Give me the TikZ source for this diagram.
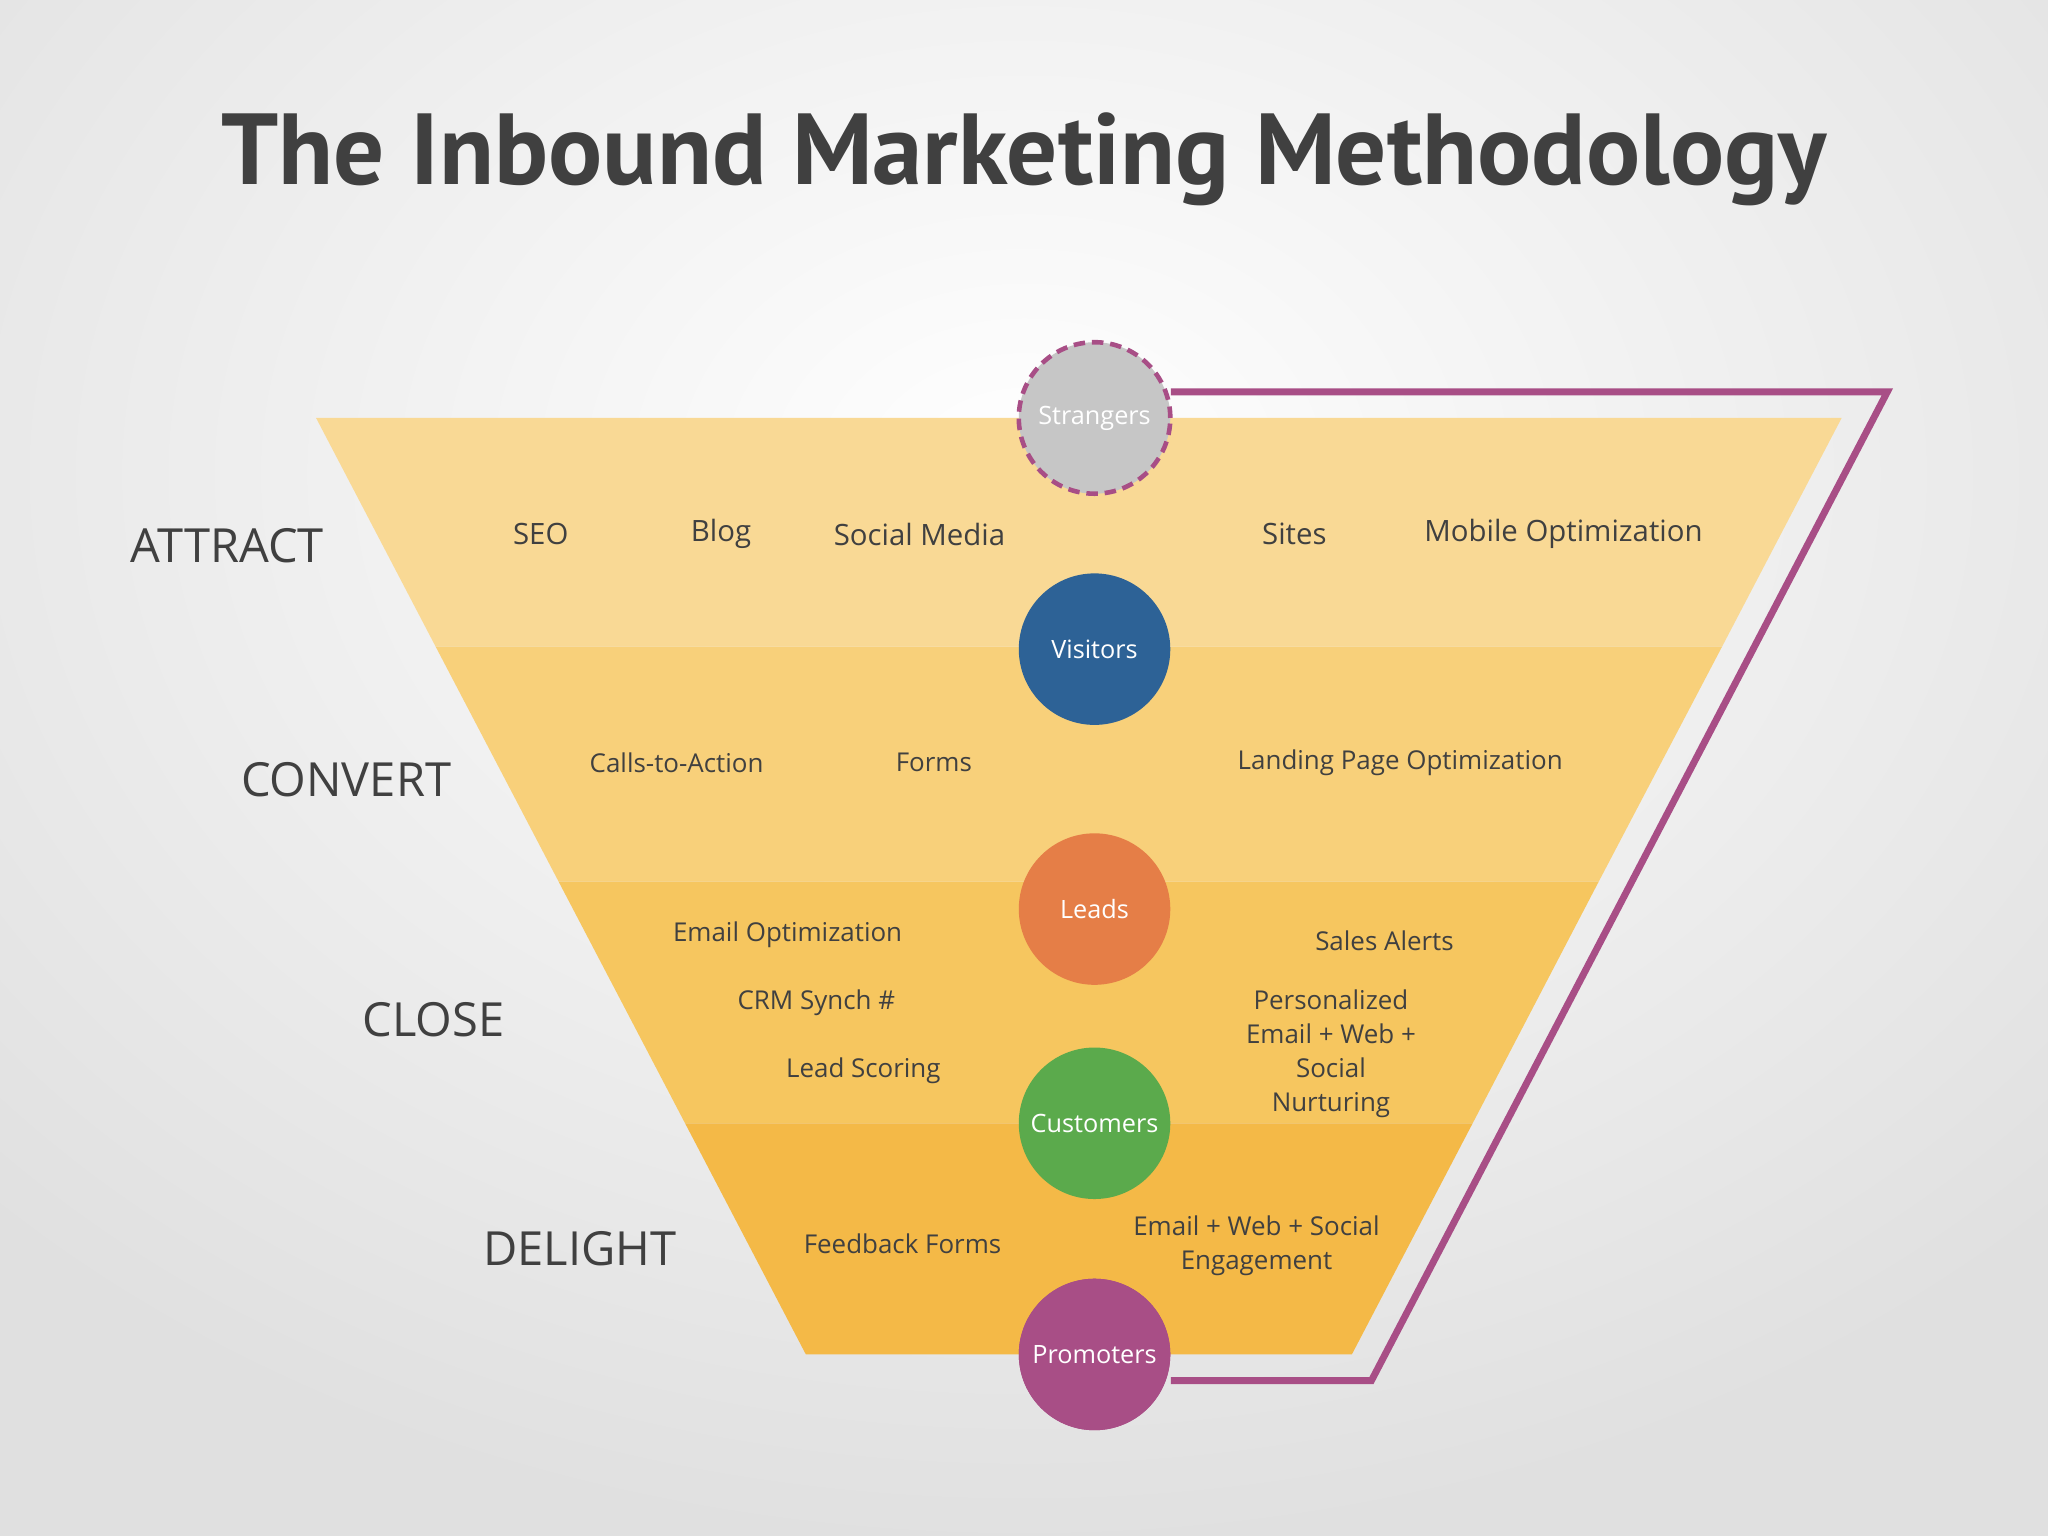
\documentclass[tikz,border=0pt]{standalone}
\usepackage{fontspec}
\setmainfont{Open Sans}
\newfontfamily\titlefont{PT Sans}
\definecolor{txt}{HTML}{404040}
\definecolor{bA}{HTML}{F9D995}
\definecolor{bB}{HTML}{F8D07A}
\definecolor{bC}{HTML}{F6C65F}
\definecolor{bD}{HTML}{F4B947}
\definecolor{mag}{HTML}{A84E86}
\definecolor{cV}{HTML}{2D6296}
\definecolor{cL}{HTML}{E57E47}
\definecolor{cC}{HTML}{5BAA4C}
\begin{document}
\begin{tikzpicture}[x=0.02cm,y=-0.02cm,
  stage/.style={text=txt,font=\fontsize{20.5}{24}\selectfont},
  item/.style={text=txt,font=\fontsize{12.8}{16}\selectfont},
  sitem/.style={text=txt,font=\fontsize{11.3}{14.8}\selectfont,align=center},
  circ/.style={circle,minimum size=116*0.02cm,inner sep=0pt,text=white,font=\fontsize{11}{13}\selectfont}]
\useasboundingbox (0,0) rectangle (1568,1176);
\begin{scope}
\clip (0,0) rectangle (1568,1176);
\shade[inner color=white,outer color=gray!24] (-300,-450) rectangle (1868,1176);
\end{scope}
\node[text=txt,font=\titlefont\bfseries\fontsize{44}{50}\selectfont] (title) at (784,122) {The Inbound Marketing Methodology};
\fill[bA] (242,320) -- (1410,320) -- (1318.5,495) -- (333.5,495) -- cycle;
\fill[bB] (333.5,495) -- (1318.5,495) -- (1224,675) -- (427.7,675) -- cycle;
\fill[bC] (427.7,675) -- (1224,675) -- (1127.5,860) -- (524.5,860) -- cycle;
\fill[bD] (524.5,860) -- (1127.5,860) -- (1035,1037) -- (617,1037) -- cycle;
\coordinate (c1) at (1445,300);
\coordinate (c2) at (1050,1057);
\node[circ,fill=mag] (prom) at (838,1037) {Promoters};
\node[circ] (str0) at (838,320) {};
\draw[mag,line width=3pt] (str0.east|-c1) -- (c1) -- (c2) -- (prom.east|-c2);
\node[circ,fill=mag] at (838,1037) {Promoters};
\node[circ,fill=gray!45,draw=mag,line width=2pt,dash pattern=on 5pt off 3pt] (str) at (838,320) {Strangers};
\node[circ,fill=cV] (vis) at (838,497) {Visitors};
\node[circ,fill=cL] (lead) at (838,696) {Leads};
\node[circ,fill=cC] (cust) at (838,860) {Customers};
\node[stage] (s1) at (174,418) {ATTRACT};
\node[stage] (s2) at (265,597) {CONVERT};
\node[stage] (s3) at (332,781) {CLOSE};
\node[stage] (s4) at (444,956) {DELIGHT};
\node[item] (a1) at (414,409) {SEO};
\node[item] (a2) at (552,409) {Blog};
\node[item] (a3) at (704,409) {Social Media};
\node[item] (a4) at (991,409) {Sites};
\node[item] (a5) at (1197,409) {Mobile Optimization};
\node[sitem] (b1) at (518,584) {Calls-to-Action};
\node[sitem] (b2) at (715,584) {Forms};
\node[sitem] (b3) at (1072,584) {Landing Page Optimization};
\node[sitem] (c1t) at (603,716) {Email Optimization};
\node[sitem] (c2t) at (625,768) {CRM Synch \#};
\node[sitem] (c3t) at (661,820) {Lead Scoring};
\node[sitem] (c4t) at (1060,720) {Sales Alerts};
\node[sitem] (c5t) at (1019,807) {Personalized\\Email + Web +\\Social\\Nurturing};
\node[sitem] (d1) at (691,952) {Feedback Forms};
\node[sitem] (d2) at (962,954) {Email + Web + Social\\Engagement};
\end{tikzpicture}
\end{document}
